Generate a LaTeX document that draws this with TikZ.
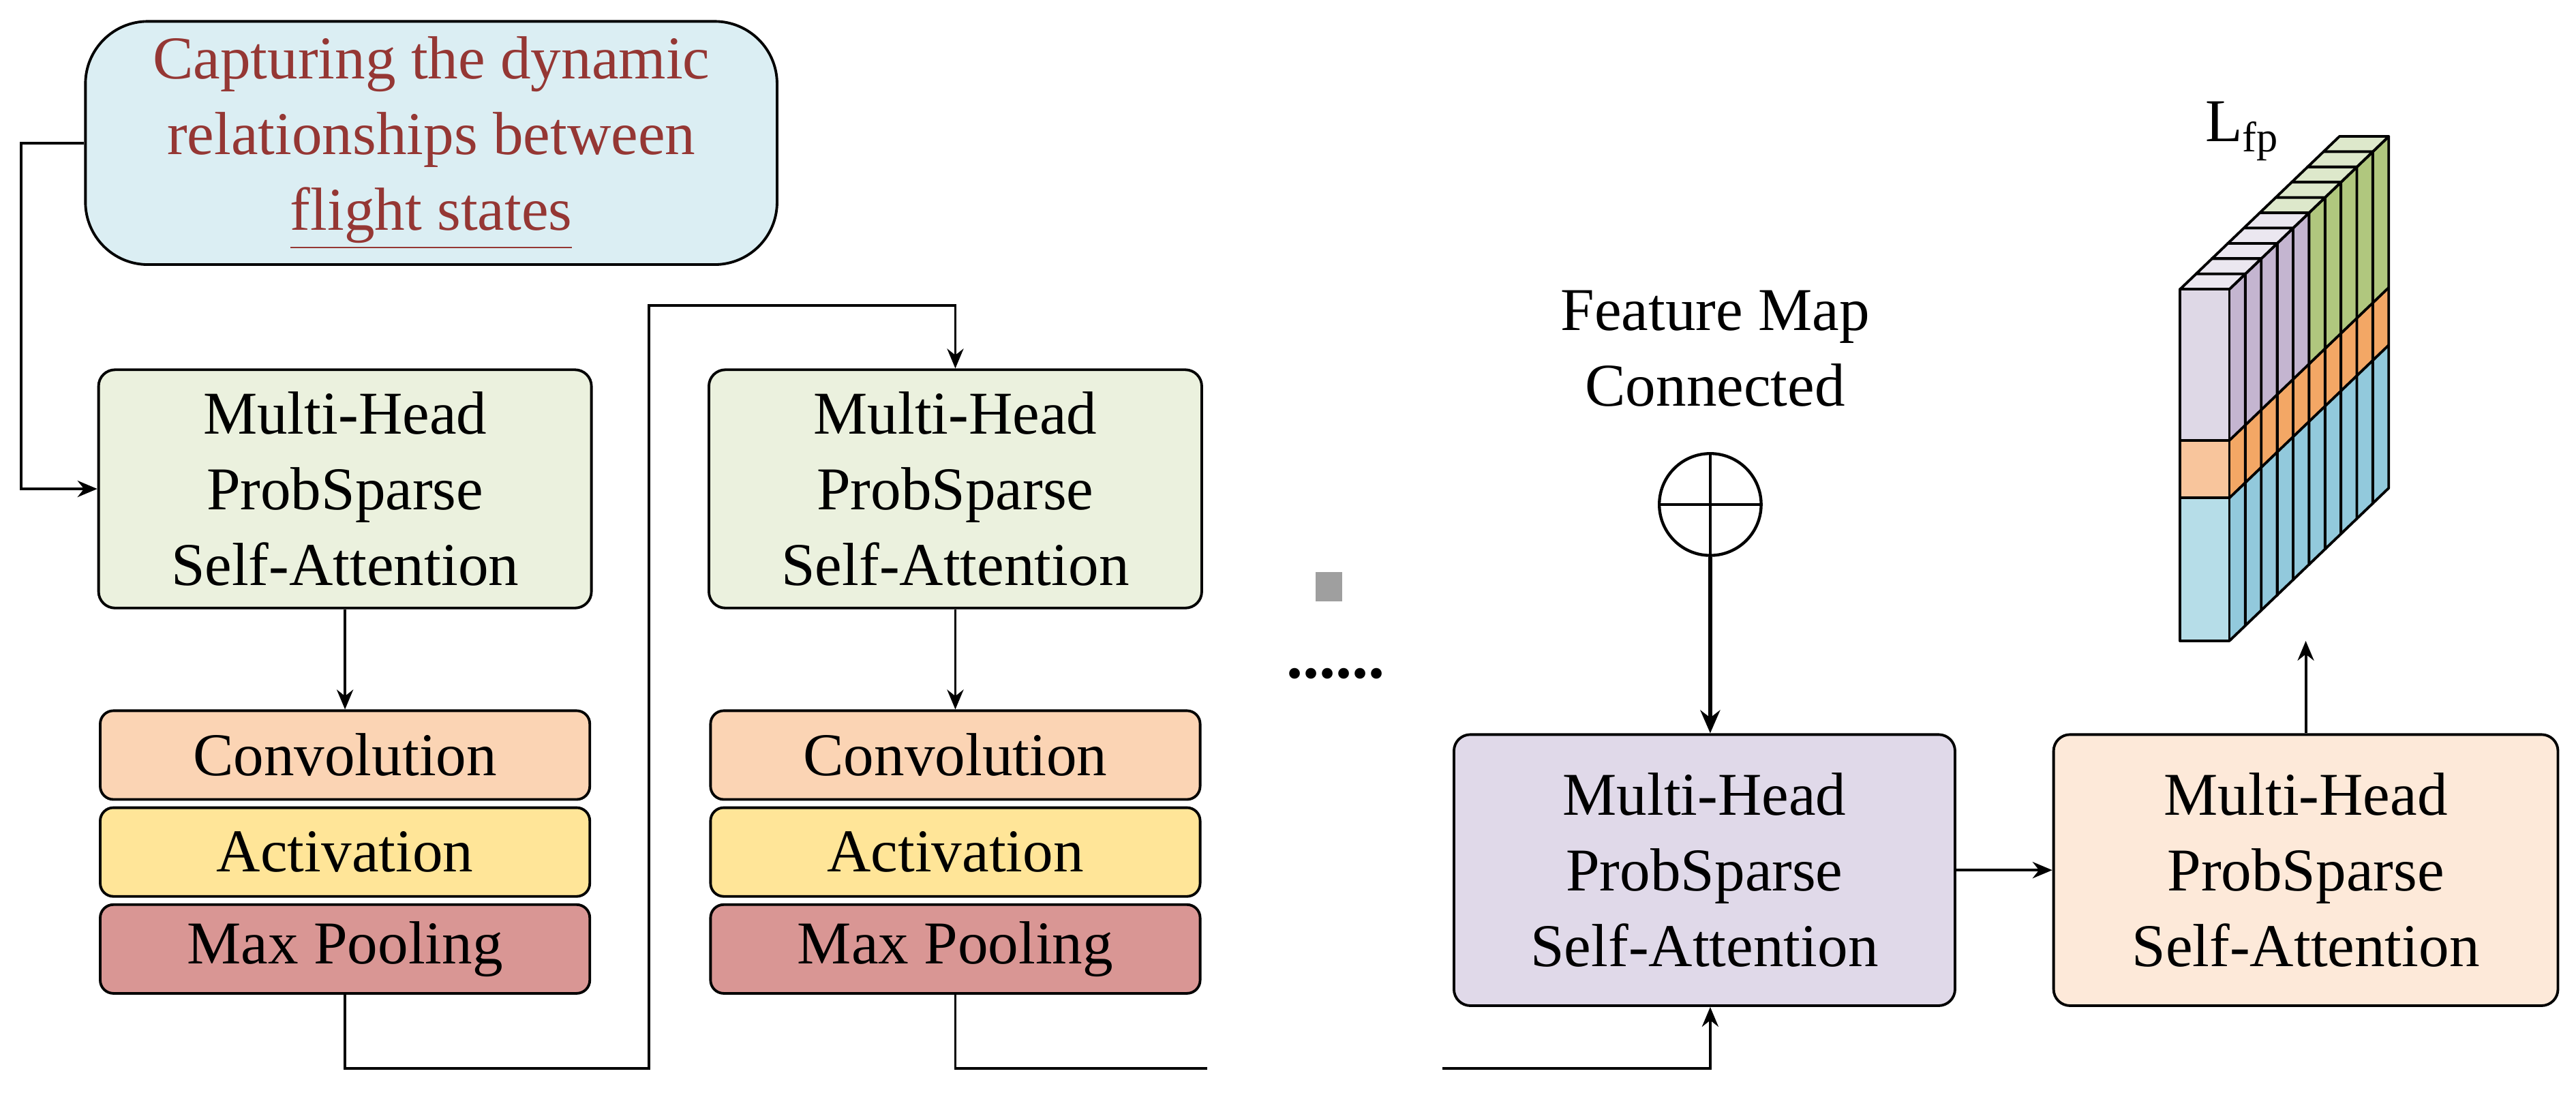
\documentclass[tikz,border=0pt]{standalone}
\usepackage{fontspec}
\setmainfont{Liberation Serif}[Ligatures=TeX]
\usetikzlibrary{arrows.meta}
\definecolor{bluebox}{HTML}{DBEEF3}
\definecolor{redtxt}{HTML}{953734}
\definecolor{greenbox}{HTML}{EBF1DE}
\definecolor{convc}{HTML}{FBD4B4}
\definecolor{actc}{HTML}{FFE598}
\definecolor{poolc}{HTML}{D99694}
\definecolor{purpbox}{HTML}{E0D9E9}
\definecolor{peachbox}{HTML}{FDE9D9}
\definecolor{pf}{HTML}{DED8E6}\definecolor{ps}{HTML}{C4B5D0}\definecolor{pt}{HTML}{EBE7F0}
\definecolor{gs}{HTML}{B0C77E}\definecolor{gt}{HTML}{DDE8CB}
\definecolor{of}{HTML}{F8C59C}\definecolor{os}{HTML}{F3A765}
\definecolor{bf}{HTML}{B6DDE8}\definecolor{bs}{HTML}{92C9DC}
\tikzset{
  box/.style={draw, line width=0.8pt, rounded corners=5pt, align=center, inner sep=0pt,
    font=\rmfamily\fontsize{18.5}{23}\selectfont},
  big/.style={box, minimum width=150pt, minimum height=72.5pt},
  layer/.style={box, minimum width=149pt, minimum height=27pt, rounded corners=4pt},
  arr/.style={line width=0.8pt, -{Stealth[length=6pt,width=5pt]}},
  ln/.style={line width=0.8pt},
  txt/.style={font=\rmfamily\fontsize{18.5}{23}\selectfont, align=center, inner sep=0pt},
}
\begin{document}
\begin{tikzpicture}[x=0.5pt,y=-0.5pt]
\useasboundingbox (0,0) rectangle (1568,666);
% top note
\node[box, fill=bluebox, text=redtxt, minimum width=210.5pt, minimum height=74pt, rounded corners=19pt] (note) at (262.5,87)
 {Capturing the dynamic\\relationships between\\\underline{flight states}};
% column 1
\node[big, fill=greenbox] (g1) at (210,297.5) {Multi-Head\\ProbSparse\\Self-Attention};
\node[layer, fill=convc] (c1) at (210,459.5) {Convolution};
\node[layer, fill=actc] (a1) at (210,518.5) {Activation};
\node[layer, fill=poolc] (p1) at (210,577.5) {Max Pooling};
% column 2
\node[big, fill=greenbox] (g2) at (581.5,297.5) {Multi-Head\\ProbSparse\\Self-Attention};
\node[layer, fill=convc] (c2) at (581.5,459.5) {Convolution};
\node[layer, fill=actc] (a2) at (581.5,518.5) {Activation};
\node[layer, fill=poolc] (p2) at (581.5,577.5) {Max Pooling};
% right part
\node[big, fill=purpbox, minimum width=152.5pt, minimum height=82.5pt] (pu) at (1037.5,529.5) {Multi-Head\\ProbSparse\\Self-Attention};
\node[big, fill=peachbox, minimum width=153.5pt, minimum height=82.5pt] (pe) at (1403.5,529.5) {Multi-Head\\ProbSparse\\Self-Attention};
\node[txt] (fm) at (1044,212) {Feature Map\\Connected};
\node[draw, circle, line width=0.9pt, minimum size=31pt, inner sep=0pt] (op) at (1041,307) {};
\draw[line width=0.9pt] (op.north) -- (op.south) (op.west) -- (op.east);
\node[fill=gray!75, minimum width=8pt, minimum height=9pt, inner sep=0pt] (sq) at (809,357) {};
\node[inner sep=0pt] (dots) at (813,410) {\fontsize{20}{20}\selectfont\bfseries ......};
% connectors
\coordinate (k1) at (13,87);
\coordinate (b1) at (210,650);
\coordinate (t1) at (395,186);
\coordinate (b2) at (582,650);
\coordinate (e2) at (735,650);
\coordinate (s3) at (878,650);
\coordinate (blk) at (1408,390);
\draw[arr] (note.west) -- (k1) |- (g1.west);
\draw[arr] (g1) -- (c1);
\draw[arr] (g2) -- (c2);
\draw[arr] (p1.south) -- (p1.south |- b1) -| (t1) -| (g2.north);
\draw[ln] (p2.south) -- (p2.south |- b2) -- (e2);
\draw[arr] (s3) -| (op.south |- pu.south);
\draw[line width=1.3pt, -{Stealth[length=7pt,width=6pt]}] (op.south) -- (op.south |- pu.north);
\draw[arr] (pu.east) -- (pe.west);
\draw[arr] (pe.north) -- (pe.north |- blk);
% feature block
\foreach \i in {9,...,0}{
  \pgfmathsetmacro{\ox}{1327+9.7*\i}
  \pgfmathsetmacro{\oy}{-9.3*\i}
  \ifnum\i>4 \def\sc{gs}\def\tc{gt}\else\def\sc{ps}\def\tc{pt}\fi
  \begin{scope}[shift={(\ox,\oy)}, line width=0.8pt, line join=round]
    \fill[\sc] (30,176) -- (39.7,166.7) -- (39.7,258.7) -- (30,268) -- cycle;
    \fill[os] (30,268) -- (39.7,258.7) -- (39.7,293.7) -- (30,303) -- cycle;
    \fill[bs] (30,303) -- (39.7,293.7) -- (39.7,380.7) -- (30,390) -- cycle;
    \draw (30,268) -- (39.7,258.7) (30,303) -- (39.7,293.7);
    \draw (30,176) -- (39.7,166.7) -- (39.7,380.7) -- (30,390);
    \filldraw[fill=\tc] (0,176) -- (9.7,166.7) -- (39.7,166.7) -- (30,176) -- cycle;
    \fill[pf] (0,176) rectangle (30,268);
    \fill[of] (0,268) rectangle (30,303);
    \fill[bf] (0,303) rectangle (30,390);
    \draw (0,268) -- (30,268) (0,303) -- (30,303);
    \draw (0,176) rectangle (30,390);
  \end{scope}
}
\node[inner sep=0pt, anchor=base west] (lfp) at (1342,86) {\rmfamily\fontsize{18.5}{23}\selectfont L\textsubscript{fp}};
\end{tikzpicture}
\end{document}
